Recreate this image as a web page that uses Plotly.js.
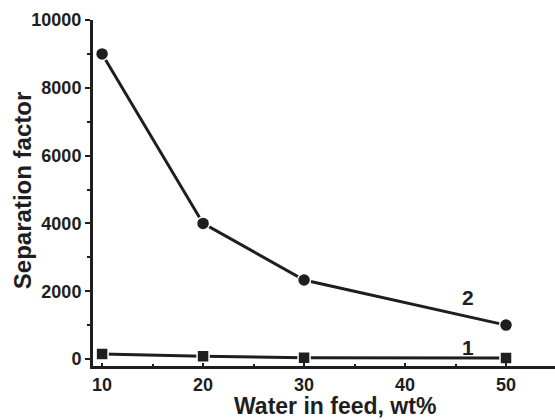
<!DOCTYPE html>
<html><head><meta charset="utf-8">
<script src="https://cdn.plot.ly/plotly-3.0.1.min.js"></script>
<style>html,body{margin:0;padding:0;background:#fff}#c{width:555px;height:420px}</style>
</head><body><div id="c"></div>
<script>
const waterFeed = [10, 20, 30, 50];
const series1 = [150, 80, 40, 30];
const series2 = [9000, 4000, 2330, 1000];
const xTicks = [10, 20, 30, 40, 50];
const yTicks = [0, 2000, 4000, 6000, 8000, 10000];
const yTickText = ["0", "2000", "4000", "6000", "8000", "10000"];
const seriesLabels = ["1", "2"];
const labelPos = [{x: 46.2, y: 350}, {x: 46.2, y: 1800}];
const xTitle = 'Water in feed, wt%';
const yTitle = 'Separation factor';

const ink = '#1e1e1e';
const fam = 'Liberation Sans, Arial, sans-serif';
const traces = [
  {x: waterFeed, y: series2, mode: 'lines+markers', line: {color: ink, width: 3},
   marker: {symbol: 'circle', size: 13, color: ink, line: {color: '#fff', width: 1.5}}},
  {x: waterFeed, y: series1, mode: 'lines+markers', line: {color: ink, width: 3},
   marker: {symbol: 'square', size: 12, color: ink, line: {color: '#fff', width: 1.5}}}
];
const tf = {family: fam, size: 18, color: ink, weight: 'bold'};
const annotations = seriesLabels.map((t, i) => ({x: labelPos[i].x, y: labelPos[i].y, text: t,
    showarrow: false, font: {family: fam, size: 21, color: ink, weight: 'bold'}}));
annotations.push({xref: 'paper', yref: 'paper', x: 0.524, y: -0.1156, xanchor: 'center', yanchor: 'middle',
  borderpad: 0, text: xTitle, showarrow: false, font: {family: fam, size: 23, color: ink, weight: 'bold'}});
annotations.push({xref: 'paper', yref: 'paper', x: -0.151, y: 0.506, xanchor: 'center', yanchor: 'middle',
  textangle: -90, text: yTitle, showarrow: false, font: {family: fam, size: 24, color: ink, weight: 'bold'}});
const layout = {
  width: 555, height: 420, showlegend: false,
  paper_bgcolor: '#fff', plot_bgcolor: '#fff',
  margin: {l: 93, r: 0, t: 20, b: 54},
  font: {family: fam, color: ink},
  xaxis: {range: [9.1, 54.85], tickvals: xTicks, ticktext: xTicks.map(String), ticks: 'inside', ticklen: 3, tickwidth: 2, tickcolor: ink,
    minor: {dtick: 5, tick0: 0, ticks: 'inside', ticklen: 2, tickwidth: 2, tickcolor: ink},
    showline: true, linewidth: 3, linecolor: ink, showgrid: false, zeroline: false,
    tickfont: tf},
  yaxis: {range: [-206, 10000], tickvals: yTicks, ticktext: yTickText, ticks: 'outside', ticklen: 5, tickwidth: 2, tickcolor: ink,
    minor: {dtick: 1000, ticks: 'outside', ticklen: 3, tickwidth: 2, tickcolor: ink},
    showline: true, linewidth: 3, linecolor: ink, showgrid: false, zeroline: false,
    tickfont: tf},
  annotations: annotations
};
Plotly.newPlot('c', traces, layout, {staticPlot: true, displayModeBar: false});
</script></body></html>
